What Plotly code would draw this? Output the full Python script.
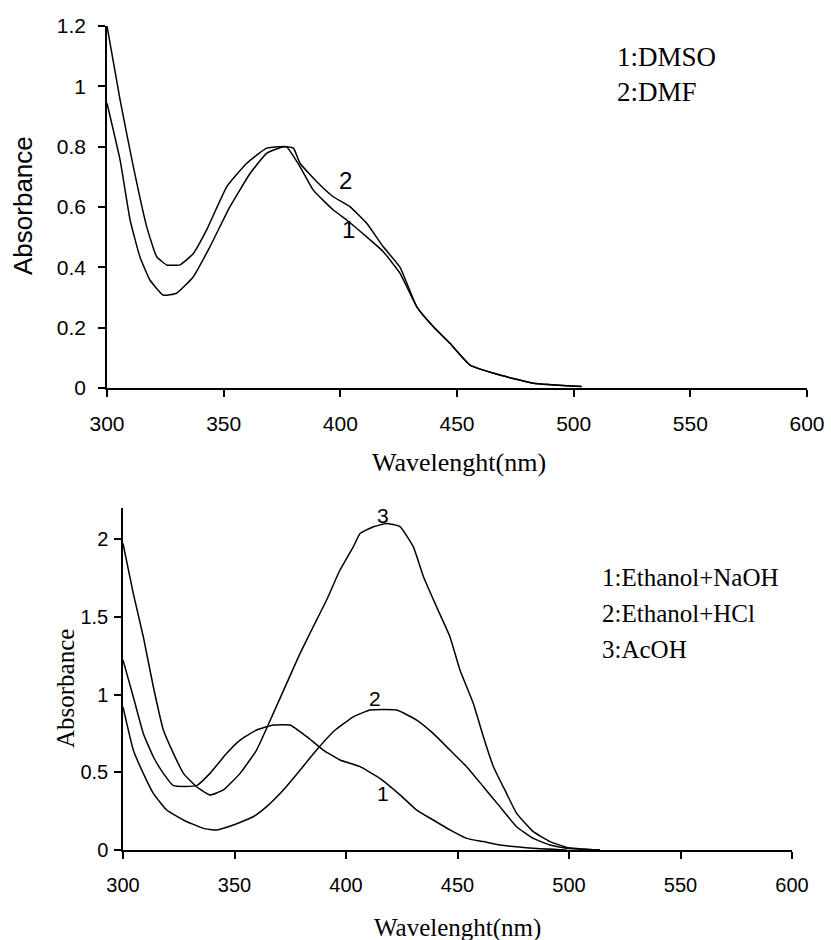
import plotly.graph_objects as go

# ---------------- Top panel data (DMSO / DMF) ----------------
top_wl_1 = [300, 305.6, 311.3, 317, 321.3, 325.6, 331.3, 337, 342.7, 351.3, 359.9, 368.4, 374.1,
            376.9, 382.7, 388.4, 397, 402.7, 411.3, 418.4, 425.6, 432.7, 439.9, 447, 455.6,
            468.4, 482.7, 503.4]
top_abs_1 = [1.2, 0.955, 0.733, 0.535, 0.435, 0.408, 0.408, 0.446, 0.524, 0.667, 0.745, 0.795, 0.80,
             0.80, 0.734, 0.656, 0.59, 0.557, 0.501, 0.452, 0.38, 0.27, 0.203, 0.148, 0.076,
             0.043, 0.016, 0.005]

top_wl_2 = [300, 305.6, 309.9, 314.1, 318.4, 324.1, 329.8, 337, 344.1, 352.7, 361.3, 368.4, 375.6,
            379.9, 382.7, 389.9, 397, 404.1, 411.3, 418.4, 425.6, 432.7, 439.9, 447, 455.6,
            468.4, 482.7, 503.4]
top_abs_2 = [0.944, 0.756, 0.557, 0.435, 0.358, 0.308, 0.314, 0.369, 0.468, 0.601, 0.711, 0.778, 0.80,
             0.795, 0.745, 0.684, 0.634, 0.601, 0.546, 0.468, 0.40, 0.27, 0.203, 0.148, 0.076,
             0.043, 0.016, 0.005]

top_legend = ["1:DMSO", "2:DMF"]

# ---------------- Bottom panel data ----------------
bot_wl_1 = [300, 304.6, 309.1, 313.6, 318.1, 322.6, 333.0, 339.0, 346.5, 352.5, 359.9, 367.4, 374.9,
            382.4, 389.8, 397.3, 406.3, 415.2, 424.2, 431.7, 439.1, 446.6, 454.1, 461.6, 469,
            484, 499]
bot_abs_1 = [1.222, 0.986, 0.750, 0.600, 0.493, 0.414, 0.414, 0.493, 0.622, 0.707, 0.772, 0.804, 0.804,
             0.729, 0.643, 0.579, 0.536, 0.461, 0.355, 0.257, 0.193, 0.129, 0.075, 0.054, 0.032,
             0.011, 0.0]

bot_wl_2 = [300, 304.6, 309.1, 313.6, 319.6, 327.1, 336.0, 342.0, 349.5, 358.4, 364.4, 371.9, 379.4,
            386.8, 394.3, 403.3, 410.8, 422.7, 431.7, 439.1, 446.6, 454.1, 461.6, 469.0, 476.5,
            484.0, 491.5, 499, 513.9]
bot_abs_2 = [0.92, 0.643, 0.493, 0.364, 0.257, 0.193, 0.139, 0.129, 0.161, 0.214, 0.279, 0.386, 0.514,
             0.643, 0.761, 0.857, 0.90, 0.90, 0.836, 0.75, 0.643, 0.536, 0.407, 0.279, 0.150,
             0.075, 0.032, 0.011, 0.0]

bot_wl_3 = [300, 304.6, 309.1, 313.6, 318.1, 322.6, 327.1, 333.0, 339.0, 345.0, 352.5, 359.9, 367.4,
            373.4, 379.4, 385.3, 391.3, 397.3, 403.3, 406.3, 412.3, 418.2, 424.2, 430.2, 434.7,
            440.6, 446.6, 451.1, 457.1, 461.6, 466.1, 472.0, 476.5, 484.0, 491.5, 499, 513.9]
bot_abs_3 = [1.972, 1.651, 1.372, 1.050, 0.772, 0.622, 0.493, 0.407, 0.354, 0.386, 0.493, 0.643, 0.879,
             1.072, 1.265, 1.436, 1.608, 1.801, 1.951, 2.036, 2.079, 2.101, 2.08, 1.95, 1.76,
             1.565, 1.372, 1.158, 0.943, 0.729, 0.536, 0.364, 0.236, 0.118, 0.054, 0.017, 0.0]

bot_legend = ["1:Ethanol+NaOH", "2:Ethanol+HCl", "3:AcOH"]

x_ticks = [300, 350, 400, 450, 500, 550, 600]
top_y_ticks = [0, 0.2, 0.4, 0.6, 0.8, 1, 1.2]
top_y_labels = ["0", "0.2", "0.4", "0.6", "0.8", "1", "1.2"]
bot_y_ticks = [0, 0.5, 1, 1.5, 2]
bot_y_labels = ["0", "0.5", "1", "1.5", "2"]

W, H = 831, 940
SANS = "Liberation Sans, Arial, sans-serif"
SERIF = "Liberation Serif, Times New Roman, serif"

def px(x):
    return x / W

def py(y):
    return 1 - y / H

line_style = dict(color="black", width=1.5, shape="spline", smoothing=0.4)

fig = go.Figure()
fig.add_trace(go.Scatter(x=top_wl_1, y=top_abs_1, mode="lines", line=line_style,
                         xaxis="x", yaxis="y", showlegend=False))
fig.add_trace(go.Scatter(x=top_wl_2, y=top_abs_2, mode="lines", line=line_style,
                         xaxis="x", yaxis="y", showlegend=False))
for wl, ab in [(bot_wl_1, bot_abs_1), (bot_wl_2, bot_abs_2), (bot_wl_3, bot_abs_3)]:
    fig.add_trace(go.Scatter(x=wl, y=ab, mode="lines", line=line_style,
                             xaxis="x2", yaxis="y2", showlegend=False))

axis_common = dict(showline=True, linecolor="black", linewidth=1.5, ticks="outside", ticklen=7,
                   tickwidth=1.5, tickcolor="black", showgrid=False, zeroline=False,
                   automargin=False)

fig.update_layout(
    template="none",
    width=W, height=H,
    margin=dict(l=0, r=0, t=0, b=0, pad=0),
    paper_bgcolor="white", plot_bgcolor="white",
    showlegend=False,
    xaxis=dict(domain=[px(107), px(807)], range=[300, 600], tickvals=x_ticks,
               anchor="y", tickfont=dict(family=SANS, size=21, color="black"),
               ticklabelstandoff=9, **axis_common),
    yaxis=dict(domain=[py(388), py(26)], range=[0, 1.2], tickvals=top_y_ticks, ticktext=top_y_labels,
               anchor="x", tickfont=dict(family=SANS, size=21, color="black"),
               ticklabelstandoff=8, **axis_common),
    xaxis2=dict(domain=[px(123), px(792)], range=[300, 600], tickvals=x_ticks,
                anchor="y2", tickfont=dict(family=SANS, size=20, color="black"),
                ticklabelstandoff=9, **axis_common),
    yaxis2=dict(domain=[py(850), py(508)], range=[0, 2.2], tickvals=bot_y_ticks, ticktext=bot_y_labels,
                anchor="x2", tickfont=dict(family=SANS, size=20, color="black"),
                ticklabelstandoff=2, **axis_common),
)

def note(text, x, y, font, angle=0, xanchor="center"):
    return dict(text=text, x=x, y=y, xref="paper", yref="paper", xanchor=xanchor,
                yanchor="middle", textangle=angle, showarrow=False, font=font)

ann = []
# axis titles
ann.append(note("Wavelenght(nm)", px(459), py(462), dict(family=SERIF, size=26, color="black")))
ann.append(note("Absorbance", px(23), py(206), dict(family=SANS, size=26, color="black"), angle=-90))
ann.append(note("Wavelenght(nm)", px(457), py(928), dict(family=SERIF, size=25, color="black")))
ann.append(note("Absorbance", px(65), py(689), dict(family=SERIF, size=25, color="black"), angle=-90))
# legend texts
for i, t in enumerate(top_legend):
    ann.append(note(t, px(615), py(57 + 35 * i), dict(family=SERIF, size=27, color="black"), xanchor="left"))
for i, t in enumerate(bot_legend):
    ann.append(note(t, px(600), py(577 + 36 * i), dict(family=SERIF, size=25, color="black"), xanchor="left"))
# curve labels
curve_labels = [("2", 402, 0.689, "x", "y", 24), ("1", 403.4, 0.524, "x", "y", 24),
                ("3", 416.7, 2.154, "x2", "y2", 21), ("2", 413, 0.975, "x2", "y2", 21),
                ("1", 416.7, 0.364, "x2", "y2", 21)]
for t, x, y, xr, yr, s in curve_labels:
    ann.append(dict(text=t, x=x, y=y, xref=xr, yref=yr, xanchor="center", yanchor="middle",
                    showarrow=False, font=dict(family=SANS, size=s, color="black")))
fig.update_layout(annotations=ann)

fig.write_html("out.html", config={"displayModeBar": False},
               post_script="document.body.style.margin='0px';document.body.style.padding='0px';")
